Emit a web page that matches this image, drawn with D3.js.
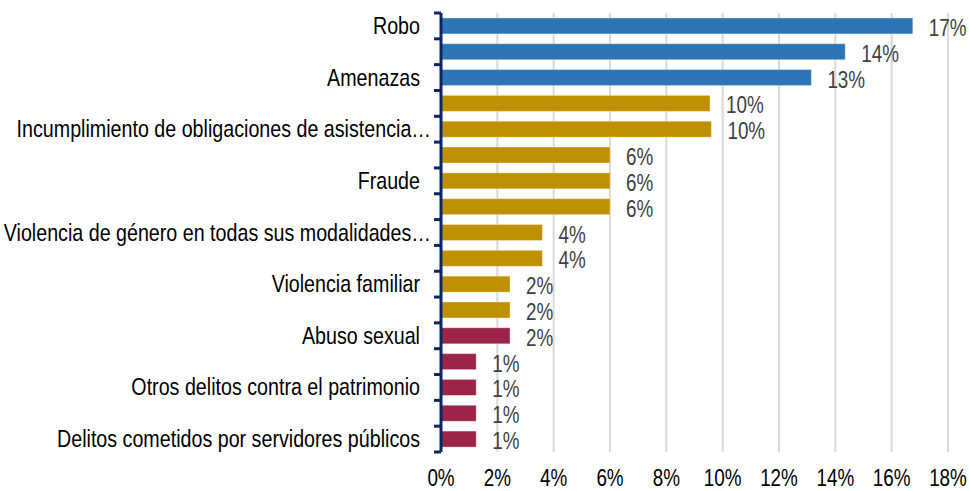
<!DOCTYPE html>
<html>
<head>
<meta charset="UTF-8">
<title>Delitos</title>
<script src="https://d3js.org/d3.v7.min.js"></script>
<style>
  body { margin: 0; background: #fff; }
  svg text { font-family: "Liberation Sans", Arial, sans-serif; }
</style>
</head>
<body>
<div id="chart"></div>
<script>
// categories, top to bottom (only every other label is shown in the original)
const categories = [
  "Robo", "", "Amenazas", "", "Incumplimiento de obligaciones de asistencia…", "",
  "Fraude", "", "Violencia de género en todas sus modalidades…", "",
  "Violencia familiar", "", "Abuso sexual", "", "Otros delitos contra el patrimonio", "",
  "Delitos cometidos por servidores públicos"
];
const values = [16.75, 14.35, 13.15, 9.55, 9.6, 6.0, 6.0, 6.0, 3.6, 3.6, 2.45, 2.45, 2.45, 1.25, 1.25, 1.25, 1.25];
const valueLabels = ["17%", "14%", "13%", "10%", "10%", "6%", "6%", "6%", "4%", "4%", "2%", "2%", "2%", "1%", "1%", "1%", "1%"];
const groups = ["a", "a", "a", "b", "b", "b", "b", "b", "b", "b", "b", "b", "c", "c", "c", "c", "c"];
const xTicks = [0, 2, 4, 6, 8, 10, 12, 14, 16, 18];

const colors = { a: "#2e75b6", b: "#bf9000", c: "#9b2447" };
const narrow = 0.82; // fake a condensed face, no narrow font installed

const W = 969, H = 491;
const margin = { top: 13, right: 21, bottom: 39, left: 441 };
const width = W - margin.left - margin.right;
const height = H - margin.top - margin.bottom;

const svg = d3.select("#chart").append("svg")
  .attr("width", W).attr("height", H);
const g = svg.append("g").attr("transform", `translate(${margin.left},${margin.top})`);

const x = d3.scaleLinear().domain([0, 18]).range([0, width]);
const y = d3.scaleBand().domain(d3.range(categories.length)).range([0, height]).paddingInner(0.38).paddingOuter(0.19);
const band = height / categories.length;

// gridlines
g.selectAll(".grid").data(xTicks.slice(1)).join("line")
  .attr("x1", d => x(d)).attr("x2", d => x(d))
  .attr("y1", 0).attr("y2", height)
  .attr("stroke", "#d9d9d9").attr("stroke-width", 2);

// x tick labels
g.selectAll(".xt").data(xTicks).join("text")
  .attr("transform", d => `translate(${x(d)},${height + 34}) scale(${narrow},1)`)
  .attr("text-anchor", "middle")
  .attr("font-size", 23).attr("fill", "#000")
  .text(d => d + "%");

// bars
g.selectAll(".bar").data(values).join("rect")
  .attr("x", 0).attr("y", (d, i) => y(i))
  .attr("width", d => x(d)).attr("height", y.bandwidth())
  .attr("fill", (d, i) => colors[groups[i]])
  .attr("stroke", "#ffffff").attr("stroke-opacity", 0.35).attr("stroke-width", 1);

// value labels
g.selectAll(".vl").data(values).join("text")
  .attr("transform", (d, i) => `translate(${x(d) + 16},${y(i) + y.bandwidth() / 2 + 10}) scale(${narrow},1)`)
  .attr("font-size", 23).attr("fill", "#404040")
  .text((d, i) => valueLabels[i]);

// category labels
g.selectAll(".cl").data(categories).join("text")
  .attr("transform", (d, i) => `translate(${d.endsWith("…") ? -10 : -21},${y(i) + y.bandwidth() / 2 + 8}) scale(${narrow},1)`)
  .attr("text-anchor", "end")
  .attr("font-size", 24).attr("fill", "#000")
  .text(d => d);

// y axis line with ticks between categories
const axisColor = "#0c2461";
g.append("line").attr("x1", 0).attr("x2", 0).attr("y1", 0).attr("y2", height)
  .attr("stroke", axisColor).attr("stroke-width", 3);
g.selectAll(".yt").data(d3.range(categories.length + 1)).join("line")
  .attr("x1", -7).attr("x2", 0)
  .attr("y1", d => d * band).attr("y2", d => d * band)
  .attr("stroke", axisColor).attr("stroke-width", 3);
</script>
</body>
</html>
